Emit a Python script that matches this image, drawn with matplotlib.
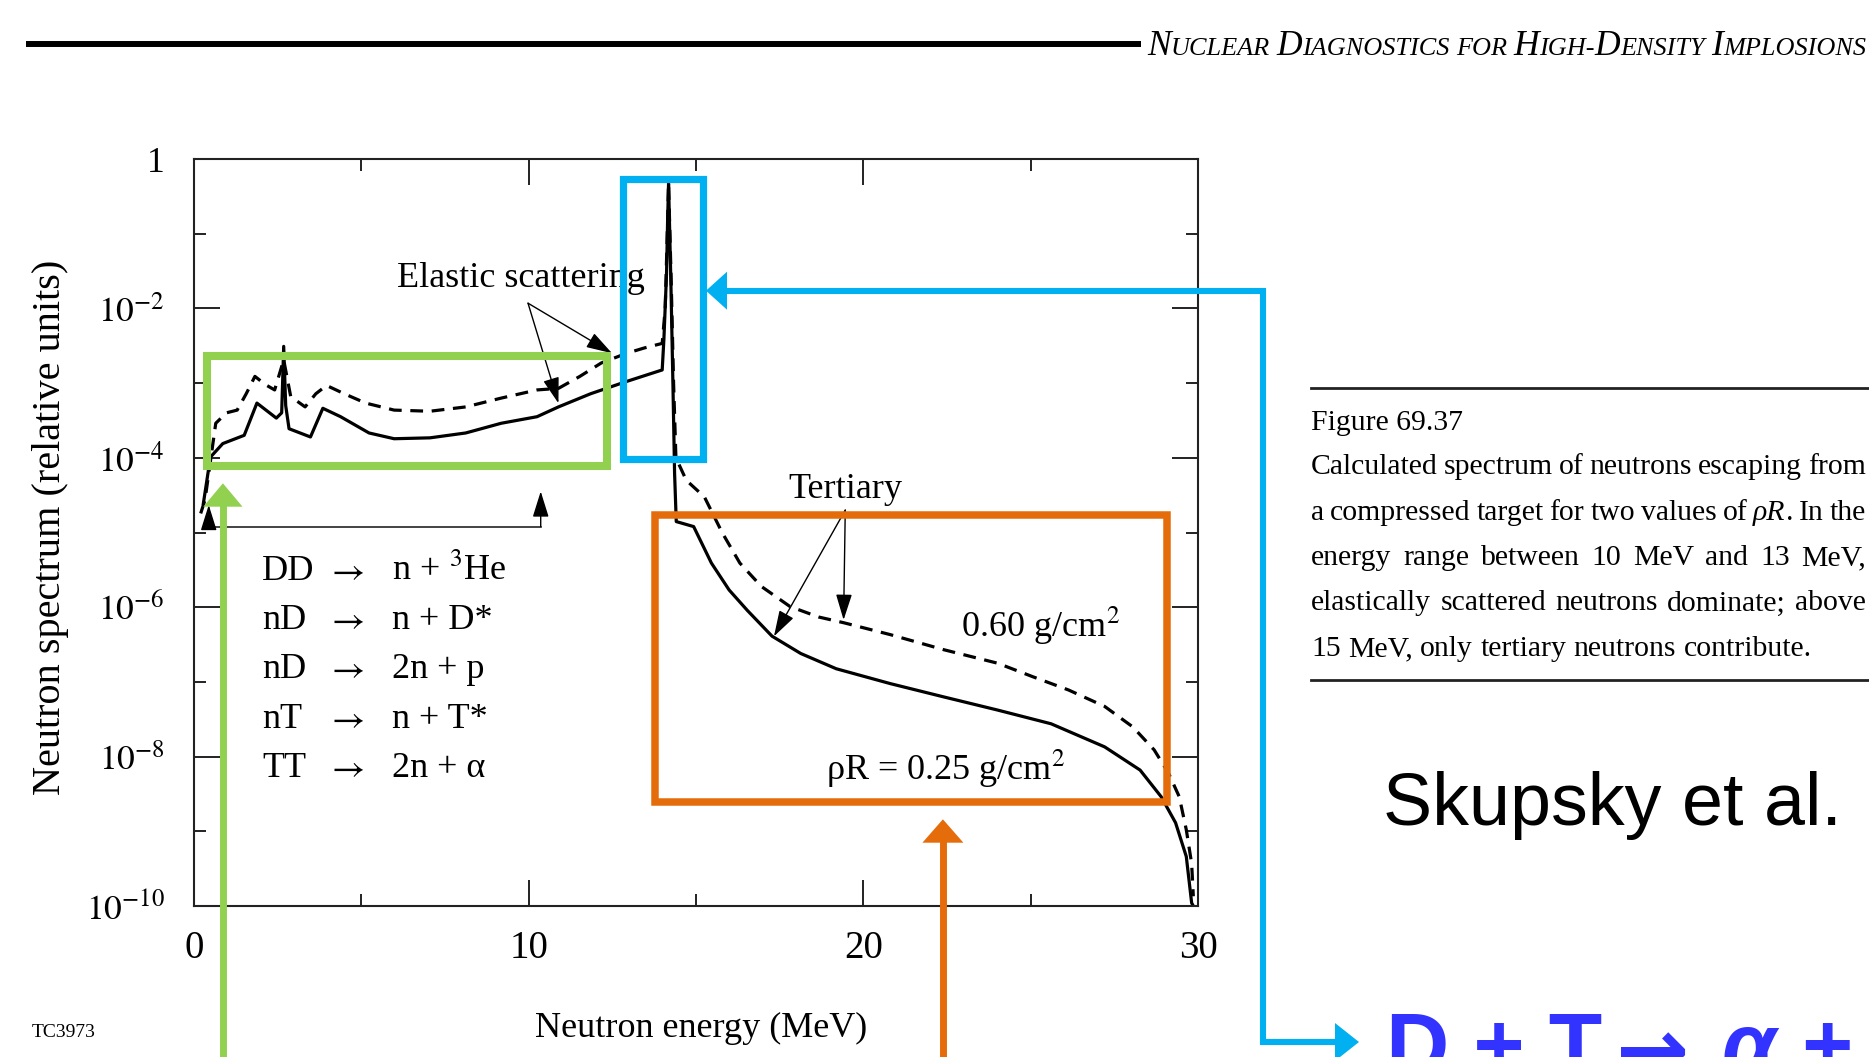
import matplotlib
matplotlib.use('Agg')
import matplotlib.pyplot as plt
from matplotlib.patches import Rectangle, Polygon
from matplotlib.ticker import NullFormatter

W, H, DPI = 1869, 1057, 100
SERIF = ['Liberation Serif', 'DejaVu Serif']
SANS = ['Liberation Sans', 'DejaVu Sans']
plt.rcParams['font.family'] = SERIF
plt.rcParams['mathtext.fontset'] = 'stix'

# ---------------- data ----------------
energy_025 = [0.28, 0.49, 0.86, 1.50, 1.88, 2.46, 2.62, 2.68, 2.74, 2.84, 3.48, 3.85,
              4.38, 5.23, 5.98, 7.05, 8.12, 9.18, 10.25, 10.89, 11.85, 12.92, 13.99,
              14.04, 14.12, 14.15, 14.18, 14.25, 14.31, 14.36, 14.41, 14.93, 15.46,
              15.99, 16.53, 17.27, 18.13, 19.19, 20.80, 22.40, 24.01, 25.61, 27.21,
              28.27, 28.90, 29.33, 29.65, 29.81, 29.86]
spectrum_025 = [2.45e-5, 1.02e-4, 1.55e-4, 2.0e-4, 5.4e-4, 3.4e-4, 4.0e-4, 3.1e-3,
                5.0e-4, 2.45e-4, 1.9e-4, 4.6e-4, 3.55e-4, 2.15e-4, 1.8e-4, 1.85e-4,
                2.15e-4, 2.9e-4, 3.55e-4, 4.8e-4, 7.2e-4, 1.05e-3, 1.5e-3, 3.8e-3,
                2.95e-2, 0.138, 0.47, 2.2e-2, 1.0e-3, 6.2e-5, 1.4e-5, 1.2e-5, 3.9e-6,
                1.7e-6, 9.1e-7, 4.1e-7, 2.4e-7, 1.5e-7, 9.5e-8, 6.3e-8, 4.2e-8,
                2.75e-8, 1.35e-8, 6.6e-9, 2.9e-9, 1.3e-9, 4.6e-10, 1.1e-10, 1.0e-10]

energy_060 = [0.20, 0.33, 0.65, 0.97, 1.29, 1.56, 1.82, 2.14, 2.41, 2.68, 2.89, 3.32,
              3.64, 3.96, 4.49, 5.13, 5.98, 7.05, 8.12, 9.18, 10.25, 10.89, 11.53,
              12.17, 12.92, 13.45, 13.99, 14.08, 14.15, 14.18, 14.26, 14.33, 14.40,
              14.71, 15.25, 15.78, 16.31, 16.95, 17.81, 18.66, 19.41, 20.80, 22.40,
              24.01, 25.07, 26.13, 27.21, 28.05, 28.69, 29.12, 29.44, 29.65, 29.81,
              29.86]
spectrum_060 = [1.8e-5, 2.75e-5, 2.9e-4, 4.0e-4, 4.35e-4, 7.2e-4, 1.23e-3, 9.5e-4,
                8.1e-4, 2.05e-3, 6.6e-4, 4.8e-4, 7.2e-4, 9.3e-4, 7.2e-4, 5.4e-4,
                4.35e-4, 4.2e-4, 4.8e-4, 6.3e-4, 8.1e-4, 8.5e-4, 1.23e-3, 1.86e-3,
                2.5e-3, 2.95e-3, 3.4e-3, 1.0e-2, 0.14, 0.47, 2.2e-2, 1.0e-3, 1.0e-4,
                5.0e-5, 3.0e-5, 1.0e-5, 3.9e-6, 1.9e-6, 1.02e-6, 7.4e-7, 6.2e-7,
                4.3e-7, 2.7e-7, 1.78e-7, 1.17e-7, 7.8e-8, 4.7e-8, 2.5e-8, 1.23e-8,
                6.0e-9, 2.9e-9, 1.05e-9, 3.7e-10, 1.35e-10]

x_ticks = [0, 10, 20, 30]
x_tick_labels = ['0', '10', '20', '30']
x_minor_ticks = [5, 15, 25]
y_ticks = [1e-10, 1e-8, 1e-6, 1e-4, 1e-2, 1]
y_tick_labels = [r'$10^{-10}$', r'$10^{-8}$', r'$10^{-6}$', r'$10^{-4}$', r'$10^{-2}$', '1']
y_minor_ticks = [1e-9, 1e-7, 1e-5, 1e-3, 1e-1]

reaction_lhs = ['DD', 'nD', 'nD', 'nT', 'TT']
reaction_rhs = [r'n + $^{3}$He', 'n + D*', '2n + p', 'n + T*', '2n + α']

header_words = ['Nuclear', 'Diagnostics', 'for', 'High-Density', 'Implosions']
caption_title = 'Figure 69.37'
caption_lines = [
    'Calculated spectrum of neutrons escaping from',
    'a compressed target for two values of *ρR*. In the',
    'energy range between 10 MeV and 13 MeV,',
    'elastically scattered neutrons dominate; above',
    '15 MeV, only tertiary neutrons contribute.',
]

GREEN, BLUE, ORANGE = '#92D050', '#00B0F0', '#E46C0A'

# ---------------- figure ----------------
fig = plt.figure(figsize=(W / DPI, H / DPI), dpi=DPI, facecolor='white')
ax = fig.add_axes([194 / W, 1 - 906 / H, (1198 - 194) / W, (906 - 159) / H])

ax.plot(energy_025, spectrum_025, color='black', lw=2.3)
ax.plot(energy_060, spectrum_060, color='black', lw=2.3, ls=(0, (4, 2.7)))

ax.set_yscale('log')
ax.set_xlim(0, 30)
ax.set_ylim(1e-10, 1)
ax.set_xticks(x_ticks, x_tick_labels)
ax.set_xticks(x_minor_ticks, minor=True)
ax.set_yticks(y_ticks, y_tick_labels)
ax.set_yticks(y_minor_ticks, minor=True)
ax.yaxis.set_minor_formatter(NullFormatter())
ax.tick_params(which='both', direction='in', top=True, right=True, width=1.4, color='#222222')
ax.tick_params(which='major', length=19)
ax.tick_params(which='minor', length=8.5)
ax.tick_params(axis='x', which='major', pad=17, labelsize=28)
ax.tick_params(axis='y', which='major', pad=21, labelsize=25.5)
for s in ax.spines.values():
    s.set_linewidth(1.5)
    s.set_color('#222222')

ax.set_xlabel('Neutron energy (MeV)', fontsize=26)
ax.xaxis.set_label_coords(0.505, -0.1633)
ax.xaxis.label.set_va('center')
ax.set_ylabel('Neutron spectrum (relative units)', fontsize=29)
ax.yaxis.set_label_coords(-0.1434, 0.507)
ax.yaxis.label.set_va('center')

# in-chart annotations
ax.text(9.77, 1.94e-2, 'Elastic scattering', fontsize=26, ha='center', va='baseline')
ax.text(19.46, 2.87e-5, 'Tertiary', fontsize=26, ha='center', va='baseline')
ax.text(22.92, 4.03e-7, r'0.60 g/cm$^{2}$', fontsize=26, ha='left', va='baseline')
ax.text(18.87, 4.86e-9, r'ρR = 0.25 g/cm$^{2}$', fontsize=26, ha='left', va='baseline')

arw = dict(arrowstyle='-|>,head_length=0.8,head_width=0.25', lw=1.0, color='black',
           shrinkA=0, shrinkB=0, mutation_scale=20)
ax.annotate('', xy=(12.49, 10 ** -2.60), xytext=(9.98, 10 ** -1.93), arrowprops=arw)
ax.annotate('', xy=(10.89, 10 ** -3.27), xytext=(9.98, 10 ** -1.93), arrowprops=arw)
ax.annotate('', xy=(17.33, 10 ** -6.39), xytext=(19.46, 10 ** -4.70), arrowprops=arw)
ax.annotate('', xy=(19.41, 10 ** -6.17), xytext=(19.46, 10 ** -4.70), arrowprops=arw)

# bracket under the low-energy region
ax.plot([0.44, 10.36], [1.2e-5, 1.2e-5], color='#222222', lw=1.2)
ax.annotate('', xy=(0.44, 2.34e-5), xytext=(0.44, 1.2e-5), arrowprops=arw)
ax.annotate('', xy=(10.36, 3.55e-5), xytext=(10.36, 1.2e-5), arrowprops=arw)

row_base = [10 ** -5.636, 10 ** -6.292, 10 ** -6.948, 10 ** -7.617, 10 ** -8.273]
for lhs, rhs, yb in zip(reaction_lhs, reaction_rhs, row_base):
    ax.text(2.03, yb, lhs, fontsize=26, ha='left', va='baseline')
    ax.text(4.51, yb, r'$\rightarrow$', fontsize=26, ha='center', va='baseline')
    ax.text(5.93, yb, rhs, fontsize=26, ha='left', va='baseline')

# ---------------- overlay in pixel coordinates ----------------
ov = fig.add_axes([0, 0, 1, 1], zorder=10)
ov.set_xlim(0, W)
ov.set_ylim(H, 0)
ov.axis('off')
renderer = fig.canvas.get_renderer()


def width(t):
    return t.get_window_extent(renderer).width


# header rule + small-caps title
ov.plot([26, 1141], [44, 44], color='black', lw=4.3, solid_capstyle='butt')


def header(size, x0=1147, yb=55, ratio=0.74):
    x = x0
    texts = []
    for wi, word in enumerate(header_words):
        if wi:
            x += 0.25 * size * ratio * DPI / 72
        runs = []
        for ch in word:
            big = ch.isupper()
            if runs and runs[-1][1] == big:
                runs[-1][0] += ch.upper()
            else:
                runs.append([ch.upper(), big])
        for s, big in runs:
            t = ov.text(x, yb, s, fontsize=size if big else size * ratio,
                        style='italic', va='baseline', ha='left', family=SERIF)
            x += width(t)
            texts.append(t)
    return x - x0, texts


wtot, tmp = header(20)
for t in tmp:
    t.remove()
header(20 * 718 / wtot)

# caption block
CAP_L, CAP_R = 1311, 1866
ov.plot([CAP_L, W], [388, 388], color='#222222', lw=2.0)
ov.plot([CAP_L, W], [680, 680], color='#222222', lw=2.0)


def word_texts(word, yb, size):
    ts = []
    for i, p in enumerate(word.split('*')):
        if p:
            ts.append(ov.text(0, yb, p, fontsize=size, style='italic' if i % 2 else 'normal',
                              va='baseline', ha='left', family=SERIF))
    return ts


def caption_line(line, yb, size, justify):
    groups = [word_texts(w, yb, size) for w in line.split(' ')]
    widths = [sum(width(t) for t in g) for g in groups]
    if justify:
        gap = (CAP_R - CAP_L - sum(widths)) / (len(groups) - 1)
    else:
        gap = 0.25 * size * DPI / 72
    x = CAP_L
    for g, w in zip(groups, widths):
        xx = x
        for t in g:
            t.set_x(xx)
            xx += width(t)
        x += w + gap
    return groups, x - gap - CAP_L


grp, wlast = caption_line(caption_lines[-1], 656, 20, False)
for g in grp:
    for t in g:
        t.remove()
cap_size = 20 * 500 / wlast
ov.text(CAP_L, 430, caption_title, fontsize=cap_size, va='baseline', ha='left', family=SERIF)
for i, line in enumerate(caption_lines):
    caption_line(line, 474 + 45.5 * i, cap_size, i < len(caption_lines) - 1)

ov.text(1383, 825, 'Skupsky et al.', fontsize=53, family=SANS, va='baseline', ha='left')

# blue reaction (cut by the bottom edge, as in the slide)
BLUE_TXT = '#3333FF'
ov.text(1386, 1074, 'D + T', fontsize=63, family=SANS, weight='bold',
        color=BLUE_TXT, va='baseline', ha='left')
ov.text(1616, 1080, '→', fontsize=63, family=['DejaVu Sans'], weight='bold',
        color=BLUE_TXT, va='baseline', ha='left')
ov.text(1722, 1074, 'α + n', fontsize=63, family=SANS, weight='bold', style='italic',
        color=BLUE_TXT, va='baseline', ha='left')
ov.text(32, 1037, 'TC3973', fontsize=14, va='baseline', ha='left', family=SERIF)

# highlight boxes
ov.add_patch(Rectangle((207, 355.5), 400, 110.5, fill=False, ec=GREEN, lw=5.8, joinstyle='miter'))
ov.add_patch(Rectangle((623, 179), 80, 280, fill=False, ec=BLUE, lw=5.2, joinstyle='miter'))
ov.add_patch(Rectangle((654.6, 515.3), 512, 286.7, fill=False, ec=ORANGE, lw=5.4, joinstyle='miter'))

# pointer arrows
ov.plot([222.9, 222.9], [H + 10, 505], color=GREEN, lw=5.0, solid_capstyle='butt')
ov.add_patch(Polygon([(203.3, 506.7), (242.5, 506.7), (222.9, 483.3)], closed=True, fc=GREEN, ec='none'))
ov.plot([942.9, 942.9], [H + 10, 841], color=ORANGE, lw=5.0, solid_capstyle='butt')
ov.add_patch(Polygon([(922.4, 842.7), (963.4, 842.7), (942.9, 819.3)], closed=True, fc=ORANGE, ec='none'))
ov.plot([726, 1263, 1263, 1337], [290.7, 290.7, 1042, 1042], color=BLUE, lw=4.4,
        solid_joinstyle='miter', solid_capstyle='butt')
ov.add_patch(Polygon([(727, 271.7), (727, 309.7), (706, 290.7)], closed=True, fc=BLUE, ec='none'))
ov.add_patch(Polygon([(1335, 1023), (1335, 1061), (1359, 1042)], closed=True, fc=BLUE, ec='none'))

fig.savefig('out.png', dpi=DPI, facecolor='white')
